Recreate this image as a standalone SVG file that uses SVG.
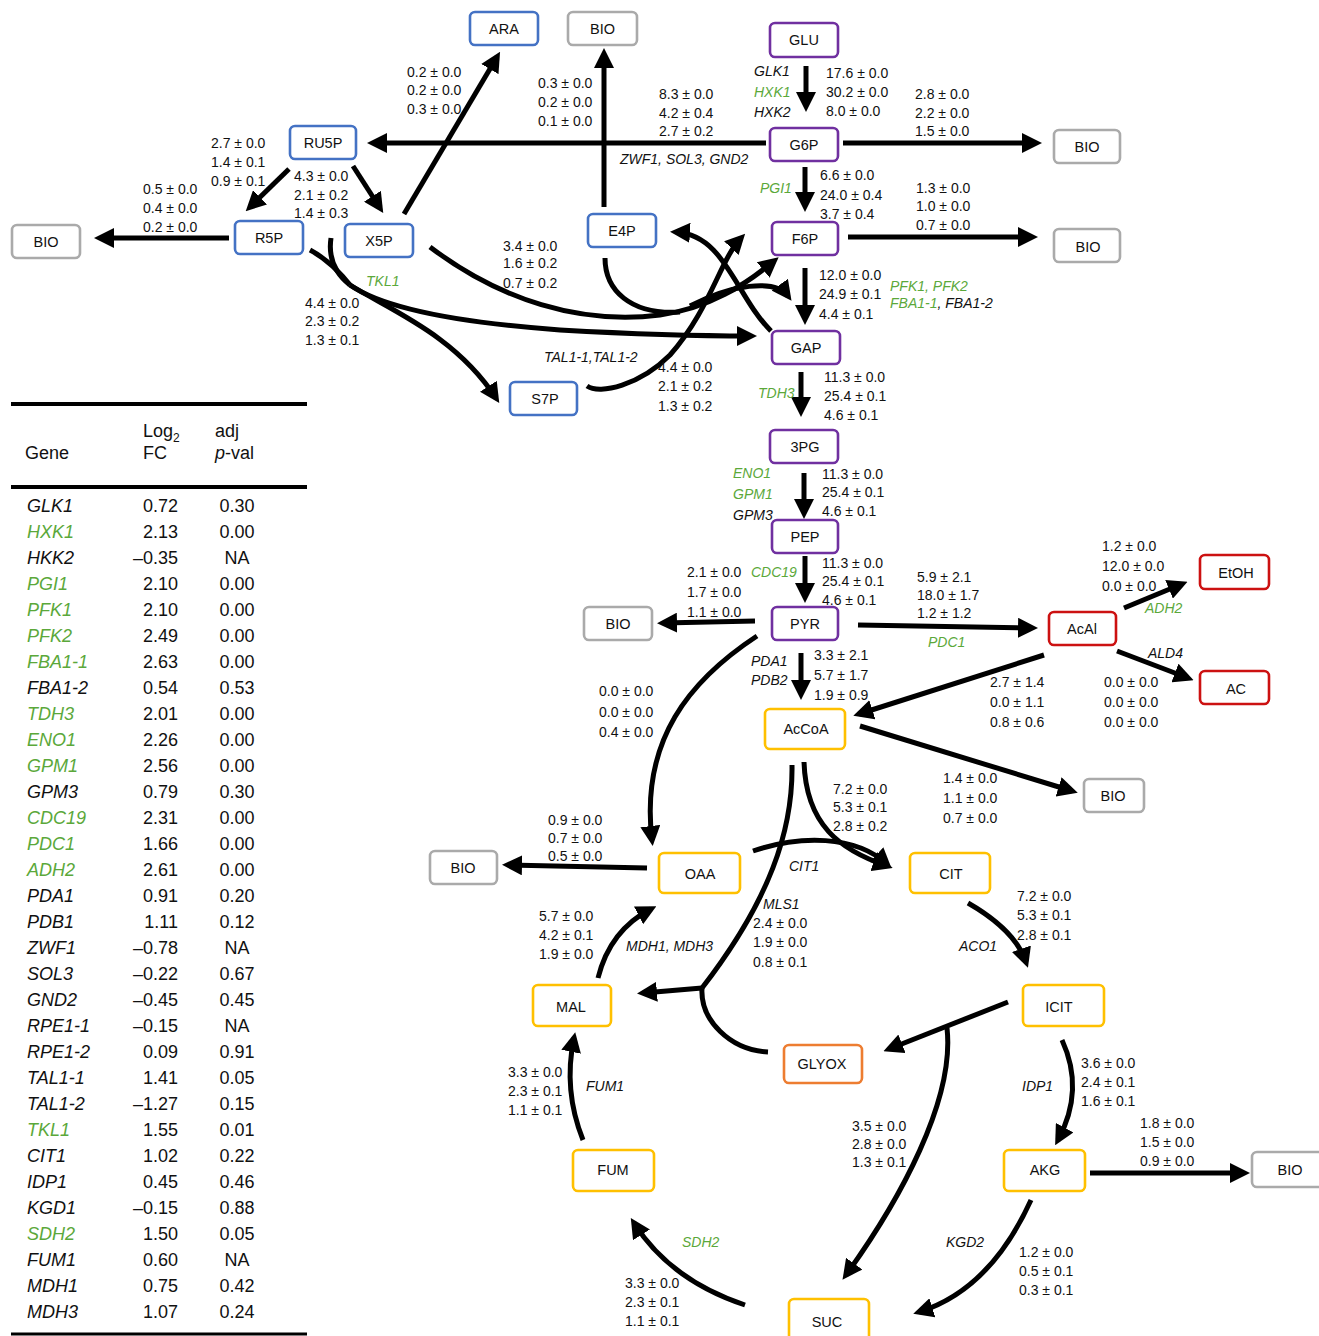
<svg xmlns="http://www.w3.org/2000/svg" width="1319" height="1336" viewBox="0 0 1319 1336">
<style>
text{font-family:"Liberation Sans",Arial,sans-serif;fill:#111}
.n{font-size:14px}
.g{font-size:14px;font-style:italic}
.gr{fill:#5ba83a}
.lb{font-size:14.5px;text-anchor:middle}
.box{fill:#fff;stroke-width:2.6}
.blue{stroke:#4472c4}.gray{stroke:#aaaaaa}.pur{stroke:#7030a0}.red{stroke:#cc1111}.yel{stroke:#ffc000}.org{stroke:#ed7d31}
.c{fill:none;stroke:#000;stroke-width:5}
.a{marker-end:url(#ah)}
.t{font-size:18px}
.ti{font-size:18px;font-style:italic}
.tr{font-size:18px;text-anchor:end}
.tm{font-size:18px;text-anchor:middle}
</style>
<defs>
<marker id="ah" viewBox="0 0 10 10" refX="7" refY="5" markerWidth="4" markerHeight="4" orient="auto">
<path d="M0,0 L10,5 L0,10 z" fill="#000"/>
</marker>
</defs>

<g id="connectors">
<line class="c a" x1="806" y1="66" x2="806" y2="106"/>
<line class="c a" x1="766" y1="143" x2="373" y2="143"/>
<line class="c a" x1="604" y1="207" x2="604" y2="54"/>
<line class="c a" x1="843" y1="143" x2="1036" y2="143"/>
<line class="c a" x1="805" y1="167" x2="805" y2="206"/>
<line class="c a" x1="848" y1="237" x2="1032" y2="237"/>
<line class="c a" x1="805" y1="268" x2="805" y2="319"/>
<line class="c a" x1="801" y1="372" x2="801" y2="411"/>
<line class="c a" x1="804" y1="473" x2="804" y2="513"/>
<line class="c a" x1="805" y1="556" x2="805" y2="597"/>
<line class="c a" x1="755" y1="621" x2="663" y2="623"/>
<line class="c a" x1="858" y1="625" x2="1032" y2="628"/>
<line class="c a" x1="1124" y1="608" x2="1182" y2="584"/>
<line class="c a" x1="1117" y1="651" x2="1188" y2="678"/>
<line class="c a" x1="1044" y1="655" x2="859" y2="714"/>
<line class="c a" x1="801" y1="653" x2="801" y2="694"/>
<line class="c a" x1="860" y1="726" x2="1072" y2="791"/>
<line class="c a" x1="647" y1="868" x2="508" y2="865"/>
<line class="c a" x1="1090" y1="1173" x2="1244" y2="1173"/>
<line class="c a" x1="1008" y1="1002" x2="889" y2="1049"/>
<line class="c a" x1="289" y1="169" x2="250" y2="207"/>
<line class="c a" x1="353" y1="166" x2="380" y2="208"/>
<line class="c a" x1="404" y1="214" x2="497" y2="57"/>
<line class="c a" x1="229" y1="238" x2="100" y2="238"/>
<path class="c a" d="M757 636 C690 680,640 740,652 840"/>
<path class="c a" d="M804 762 C806 825,840 850,887 866"/>
<path class="c a" d="M753 851 C800 835,855 835,887 864"/>
<path class="c" d="M792 765 C793 830,770 900,702 988"/>
<path class="c a" d="M702 988 L643 993"/>
<path class="c" d="M702 988 C700 1020,730 1050,768 1052"/>
<path class="c a" d="M598 978 Q610 930,651 909"/>
<path class="c a" d="M583 1140 Q563 1090,574 1038"/>
<path class="c a" d="M745 1305 Q670 1280,634 1223"/>
<path class="c a" d="M1031 1200 Q990 1290,919 1312"/>
<path class="c a" d="M1062 1040 Q1085 1090,1058 1140"/>
<path class="c a" d="M968 903 Q1015 930,1026 962"/>
<path class="c a" d="M947 1028 C955 1100,900 1200,846 1275"/>
<path class="c" d="M310 250 C325 258,338 270,350 285"/>
<path class="c" d="M331 238 C328 258,336 274,350 285"/>
<path class="c a" d="M350 285 C380 306,450 322,560 330 C650 335,700 336,751 336"/>
<path class="c a" d="M350 285 C390 310,455 335,496 398"/>
<path class="c a" d="M430 247 C500 300,580 325,660 315 C710 308,745 285,774 261"/>
<path class="c a" d="M690 306 C730 285,775 278,788 296"/>
<path class="c" d="M605 258 C605 290,630 315,680 312"/>
<path class="c a" d="M587 386 C600 395,640 385,670 355 C710 310,720 260,741 238"/>
<path class="c a" d="M771 331 C735 295,725 235,676 232"/>
</g>

<g id="n-ARA"><rect class="box blue" x="470" y="12" width="68" height="33" rx="5"/><text class="lb" x="504" y="34">ARA</text></g>
<g id="n-BIO1"><rect class="box gray" x="568" y="12" width="69" height="33" rx="5"/><text class="lb" x="602.5" y="34">BIO</text></g>
<g id="n-GLU"><rect class="box pur" x="770" y="23" width="68" height="34" rx="5"/><text class="lb" x="804" y="45">GLU</text></g>
<g id="n-RU5P"><rect class="box blue" x="290" y="126" width="66" height="33" rx="5"/><text class="lb" x="323" y="148">RU5P</text></g>
<g id="n-G6P"><rect class="box pur" x="770" y="128" width="68" height="33" rx="5"/><text class="lb" x="804" y="150">G6P</text></g>
<g id="n-BIO2"><rect class="box gray" x="1054" y="130" width="66" height="33" rx="5"/><text class="lb" x="1087" y="152">BIO</text></g>
<g id="n-BIO3"><rect class="box gray" x="12" y="225" width="68" height="33" rx="5"/><text class="lb" x="46" y="247">BIO</text></g>
<g id="n-R5P"><rect class="box blue" x="235" y="221" width="68" height="33" rx="5"/><text class="lb" x="269" y="243">R5P</text></g>
<g id="n-X5P"><rect class="box blue" x="345" y="224" width="68" height="33" rx="5"/><text class="lb" x="379" y="246">X5P</text></g>
<g id="n-E4P"><rect class="box blue" x="588" y="214" width="68" height="33" rx="5"/><text class="lb" x="622" y="236">E4P</text></g>
<g id="n-F6P"><rect class="box pur" x="772" y="222" width="66" height="33" rx="5"/><text class="lb" x="805" y="244">F6P</text></g>
<g id="n-BIO4"><rect class="box gray" x="1054" y="229" width="66" height="33" rx="5"/><text class="lb" x="1088" y="252">BIO</text></g>
<g id="n-GAP"><rect class="box pur" x="772" y="331" width="68" height="33" rx="5"/><text class="lb" x="806" y="353">GAP</text></g>
<g id="n-S7P"><rect class="box blue" x="510" y="382" width="67" height="33" rx="5"/><text class="lb" x="545" y="404">S7P</text></g>
<g id="n-3PG"><rect class="box pur" x="770" y="430" width="68" height="33" rx="5"/><text class="lb" x="805" y="452">3PG</text></g>
<g id="n-PEP"><rect class="box pur" x="772" y="520" width="66" height="33" rx="5"/><text class="lb" x="805" y="542">PEP</text></g>
<g id="n-PYR"><rect class="box pur" x="772" y="607" width="66" height="33" rx="5"/><text class="lb" x="805" y="629">PYR</text></g>
<g id="n-BIO5"><rect class="box gray" x="584" y="607" width="68" height="33" rx="5"/><text class="lb" x="618" y="629">BIO</text></g>
<g id="n-EtOH"><rect class="box red" x="1200" y="555" width="69" height="34" rx="5"/><text class="lb" x="1236" y="578">EtOH</text></g>
<g id="n-AcAl"><rect class="box red" x="1049" y="612" width="67" height="33" rx="5"/><text class="lb" x="1082" y="634">AcAl</text></g>
<g id="n-AC"><rect class="box red" x="1200" y="671" width="69" height="33" rx="5"/><text class="lb" x="1236" y="694">AC</text></g>
<g id="n-AcCoA"><rect class="box yel" x="765" y="709" width="80" height="40" rx="5"/><text class="lb" x="806" y="734">AcCoA</text></g>
<g id="n-BIO6"><rect class="box gray" x="1084" y="779" width="60" height="33" rx="5"/><text class="lb" x="1113" y="801">BIO</text></g>
<g id="n-BIO7"><rect class="box gray" x="430" y="851" width="67" height="33" rx="5"/><text class="lb" x="463" y="873">BIO</text></g>
<g id="n-OAA"><rect class="box yel" x="659" y="853" width="81" height="40" rx="5"/><text class="lb" x="700" y="879">OAA</text></g>
<g id="n-CIT"><rect class="box yel" x="910" y="853" width="80" height="40" rx="5"/><text class="lb" x="951" y="879">CIT</text></g>
<g id="n-MAL"><rect class="box yel" x="533" y="985" width="78" height="41" rx="5"/><text class="lb" x="571" y="1012">MAL</text></g>
<g id="n-ICIT"><rect class="box yel" x="1023" y="985" width="81" height="41" rx="5"/><text class="lb" x="1059" y="1012">ICIT</text></g>
<g id="n-GLYOX"><rect class="box org" x="784" y="1045" width="78" height="38" rx="5"/><text class="lb" x="822" y="1069">GLYOX</text></g>
<g id="n-FUM"><rect class="box yel" x="573" y="1150" width="81" height="41" rx="5"/><text class="lb" x="613" y="1175">FUM</text></g>
<g id="n-AKG"><rect class="box yel" x="1004" y="1150" width="81" height="41" rx="5"/><text class="lb" x="1045" y="1175">AKG</text></g>
<g id="n-BIO8"><rect class="box gray" x="1252" y="1152" width="80" height="35" rx="5"/><text class="lb" x="1290" y="1175">BIO</text></g>
<g id="n-SUC"><rect class="box yel" x="789" y="1299" width="80" height="45" rx="5"/><text class="lb" x="827" y="1327">SUC</text></g>

<g id="labels">
<text class="n"><tspan x="407" y="77">0.2 ± 0.0</tspan><tspan x="407" y="95">0.2 ± 0.0</tspan><tspan x="407" y="114">0.3 ± 0.0</tspan></text>
<text class="n"><tspan x="538" y="88">0.3 ± 0.0</tspan><tspan x="538" y="107">0.2 ± 0.0</tspan><tspan x="538" y="126">0.1 ± 0.0</tspan></text>
<text class="n"><tspan x="659" y="99">8.3 ± 0.0</tspan><tspan x="659" y="118">4.2 ± 0.4</tspan><tspan x="659" y="136">2.7 ± 0.2</tspan></text>
<text class="g" x="754" y="76">GLK1</text>
<text class="g gr" x="754" y="97">HXK1</text>
<text class="g" x="754" y="117">HXK2</text>
<text class="n"><tspan x="826" y="78">17.6 ± 0.0</tspan><tspan x="826" y="97">30.2 ± 0.0</tspan><tspan x="826" y="116">8.0 ± 0.0</tspan></text>
<text class="n"><tspan x="915" y="99">2.8 ± 0.0</tspan><tspan x="915" y="118">2.2 ± 0.0</tspan><tspan x="915" y="136">1.5 ± 0.0</tspan></text>
<text class="n"><tspan x="211" y="148">2.7 ± 0.0</tspan><tspan x="211" y="167">1.4 ± 0.1</tspan><tspan x="211" y="186">0.9 ± 0.1</tspan></text>
<text class="n"><tspan x="143" y="194">0.5 ± 0.0</tspan><tspan x="143" y="213">0.4 ± 0.0</tspan><tspan x="143" y="232">0.2 ± 0.0</tspan></text>
<text class="n"><tspan x="294" y="181">4.3 ± 0.0</tspan><tspan x="294" y="200">2.1 ± 0.2</tspan><tspan x="294" y="218">1.4 ± 0.3</tspan></text>
<text class="g" x="620" y="164">ZWF1, SOL3, GND2</text>
<text class="g gr" x="760" y="193">PGI1</text>
<text class="n"><tspan x="820" y="180">6.6 ± 0.0</tspan><tspan x="820" y="200">24.0 ± 0.4</tspan><tspan x="820" y="219">3.7 ± 0.4</tspan></text>
<text class="n"><tspan x="916" y="193">1.3 ± 0.0</tspan><tspan x="916" y="211">1.0 ± 0.0</tspan><tspan x="916" y="230">0.7 ± 0.0</tspan></text>
<text class="n"><tspan x="503" y="251">3.4 ± 0.0</tspan><tspan x="503" y="268">1.6 ± 0.2</tspan><tspan x="503" y="288">0.7 ± 0.2</tspan></text>
<text class="g gr" x="366" y="286">TKL1</text>
<text class="n"><tspan x="305" y="308">4.4 ± 0.0</tspan><tspan x="305" y="326">2.3 ± 0.2</tspan><tspan x="305" y="345">1.3 ± 0.1</tspan></text>
<text class="n"><tspan x="819" y="280">12.0 ± 0.0</tspan><tspan x="819" y="299">24.9 ± 0.1</tspan><tspan x="819" y="319">4.4 ± 0.1</tspan></text>
<text class="g gr" x="890" y="291">PFK1, PFK2</text>
<text class="g" x="890" y="308"><tspan class="gr">FBA1-1</tspan>, FBA1-2</text>
<text class="g" x="544" y="362">TAL1-1,TAL1-2</text>
<text class="n"><tspan x="658" y="372">4.4 ± 0.0</tspan><tspan x="658" y="391">2.1 ± 0.2</tspan><tspan x="658" y="411">1.3 ± 0.2</tspan></text>
<text class="g gr" x="758" y="398">TDH3</text>
<text class="n"><tspan x="824" y="382">11.3 ± 0.0</tspan><tspan x="824" y="401">25.4 ± 0.1</tspan><tspan x="824" y="420">4.6 ± 0.1</tspan></text>
<text class="g gr" x="733" y="478">ENO1</text>
<text class="g gr" x="733" y="499">GPM1</text>
<text class="g" x="733" y="520">GPM3</text>
<text class="n"><tspan x="822" y="479">11.3 ± 0.0</tspan><tspan x="822" y="497">25.4 ± 0.1</tspan><tspan x="822" y="516">4.6 ± 0.1</tspan></text>
<text class="n"><tspan x="687" y="577">2.1 ± 0.0</tspan><tspan x="687" y="597">1.7 ± 0.0</tspan><tspan x="687" y="617">1.1 ± 0.0</tspan></text>
<text class="g gr" x="751" y="577">CDC19</text>
<text class="n"><tspan x="822" y="568">11.3 ± 0.0</tspan><tspan x="822" y="586">25.4 ± 0.1</tspan><tspan x="822" y="605">4.6 ± 0.1</tspan></text>
<text class="n"><tspan x="917" y="582">5.9 ± 2.1</tspan><tspan x="917" y="600">18.0 ± 1.7</tspan><tspan x="917" y="618">1.2 ± 1.2</tspan></text>
<text class="g gr" x="928" y="647">PDC1</text>
<text class="n"><tspan x="1102" y="551">1.2 ± 0.0</tspan><tspan x="1102" y="571">12.0 ± 0.0</tspan><tspan x="1102" y="591">0.0 ± 0.0</tspan></text>
<text class="g gr" x="1145" y="613">ADH2</text>
<text class="g" x="1148" y="658">ALD4</text>
<text class="g" x="751" y="666">PDA1</text>
<text class="g" x="751" y="685">PDB2</text>
<text class="n"><tspan x="814" y="660">3.3 ± 2.1</tspan><tspan x="814" y="680">5.7 ± 1.7</tspan><tspan x="814" y="700">1.9 ± 0.9</tspan></text>
<text class="n"><tspan x="990" y="687">2.7 ± 1.4</tspan><tspan x="990" y="707">0.0 ± 1.1</tspan><tspan x="990" y="727">0.8 ± 0.6</tspan></text>
<text class="n"><tspan x="1104" y="687">0.0 ± 0.0</tspan><tspan x="1104" y="707">0.0 ± 0.0</tspan><tspan x="1104" y="727">0.0 ± 0.0</tspan></text>
<text class="n"><tspan x="599" y="696">0.0 ± 0.0</tspan><tspan x="599" y="717">0.0 ± 0.0</tspan><tspan x="599" y="737">0.4 ± 0.0</tspan></text>
<text class="n"><tspan x="833" y="794">7.2 ± 0.0</tspan><tspan x="833" y="812">5.3 ± 0.1</tspan><tspan x="833" y="831">2.8 ± 0.2</tspan></text>
<text class="n"><tspan x="943" y="783">1.4 ± 0.0</tspan><tspan x="943" y="803">1.1 ± 0.0</tspan><tspan x="943" y="823">0.7 ± 0.0</tspan></text>
<text class="n"><tspan x="548" y="825">0.9 ± 0.0</tspan><tspan x="548" y="843">0.7 ± 0.0</tspan><tspan x="548" y="861">0.5 ± 0.0</tspan></text>
<text class="g" x="789" y="871">CIT1</text>
<text class="g" x="763" y="909">MLS1</text>
<text class="n"><tspan x="753" y="928">2.4 ± 0.0</tspan><tspan x="753" y="947">1.9 ± 0.0</tspan><tspan x="753" y="967">0.8 ± 0.1</tspan></text>
<text class="n"><tspan x="1017" y="901">7.2 ± 0.0</tspan><tspan x="1017" y="920">5.3 ± 0.1</tspan><tspan x="1017" y="940">2.8 ± 0.1</tspan></text>
<text class="g" x="959" y="951">ACO1</text>
<text class="n"><tspan x="539" y="921">5.7 ± 0.0</tspan><tspan x="539" y="940">4.2 ± 0.1</tspan><tspan x="539" y="959">1.9 ± 0.0</tspan></text>
<text class="g" x="626" y="951">MDH1, MDH3</text>
<text class="n"><tspan x="508" y="1077">3.3 ± 0.0</tspan><tspan x="508" y="1096">2.3 ± 0.1</tspan><tspan x="508" y="1115">1.1 ± 0.1</tspan></text>
<text class="g" x="586" y="1091">FUM1</text>
<text class="n"><tspan x="1081" y="1068">3.6 ± 0.0</tspan><tspan x="1081" y="1087">2.4 ± 0.1</tspan><tspan x="1081" y="1106">1.6 ± 0.1</tspan></text>
<text class="g" x="1022" y="1091">IDP1</text>
<text class="n"><tspan x="852" y="1131">3.5 ± 0.0</tspan><tspan x="852" y="1149">2.8 ± 0.0</tspan><tspan x="852" y="1167">1.3 ± 0.1</tspan></text>
<text class="n"><tspan x="1140" y="1128">1.8 ± 0.0</tspan><tspan x="1140" y="1147">1.5 ± 0.0</tspan><tspan x="1140" y="1166">0.9 ± 0.0</tspan></text>
<text class="g gr" x="682" y="1247">SDH2</text>
<text class="g" x="946" y="1247">KGD2</text>
<text class="n"><tspan x="625" y="1288">3.3 ± 0.0</tspan><tspan x="625" y="1307">2.3 ± 0.1</tspan><tspan x="625" y="1326">1.1 ± 0.1</tspan></text>
<text class="n"><tspan x="1019" y="1257">1.2 ± 0.0</tspan><tspan x="1019" y="1276">0.5 ± 0.1</tspan><tspan x="1019" y="1295">0.3 ± 0.1</tspan></text>
</g>

<g id="table">
<line x1="11" y1="404" x2="307" y2="404" stroke="#000" stroke-width="4"/>
<line x1="11" y1="487" x2="307" y2="487" stroke="#000" stroke-width="4"/>
<line x1="11" y1="1334" x2="307" y2="1334" stroke="#000" stroke-width="3"/>
<text class="t" x="25" y="459">Gene</text>
<text class="t" x="143" y="437">Log<tspan font-size="12" dy="5">2</tspan></text>
<text class="t" x="143" y="459">FC</text>
<text class="t" x="215" y="437">adj</text>
<text class="t" x="215" y="459"><tspan font-style="italic">p</tspan>-val</text>
<g class="ti">
<text class="ti" x="27" y="512">GLK1</text>
<text class="ti gr" x="27" y="538">HXK1</text>
<text class="ti" x="27" y="564">HKK2</text>
<text class="ti gr" x="27" y="590">PGI1</text>
<text class="ti gr" x="27" y="616">PFK1</text>
<text class="ti gr" x="27" y="642">PFK2</text>
<text class="ti gr" x="27" y="668">FBA1-1</text>
<text class="ti" x="27" y="694">FBA1-2</text>
<text class="ti gr" x="27" y="720">TDH3</text>
<text class="ti gr" x="27" y="746">ENO1</text>
<text class="ti gr" x="27" y="772">GPM1</text>
<text class="ti" x="27" y="798">GPM3</text>
<text class="ti gr" x="27" y="824">CDC19</text>
<text class="ti gr" x="27" y="850">PDC1</text>
<text class="ti gr" x="27" y="876">ADH2</text>
<text class="ti" x="27" y="902">PDA1</text>
<text class="ti" x="27" y="928">PDB1</text>
<text class="ti" x="27" y="954">ZWF1</text>
<text class="ti" x="27" y="980">SOL3</text>
<text class="ti" x="27" y="1006">GND2</text>
<text class="ti" x="27" y="1032">RPE1-1</text>
<text class="ti" x="27" y="1058">RPE1-2</text>
<text class="ti" x="27" y="1084">TAL1-1</text>
<text class="ti" x="27" y="1110">TAL1-2</text>
<text class="ti gr" x="27" y="1136">TKL1</text>
<text class="ti" x="27" y="1162">CIT1</text>
<text class="ti" x="27" y="1188">IDP1</text>
<text class="ti" x="27" y="1214">KGD1</text>
<text class="ti gr" x="27" y="1240">SDH2</text>
<text class="ti" x="27" y="1266">FUM1</text>
<text class="ti" x="27" y="1292">MDH1</text>
<text class="ti" x="27" y="1318">MDH3</text>
</g>
<text class="tr"><tspan x="178" y="512">0.72</tspan><tspan x="178" y="538">2.13</tspan><tspan x="178" y="564">–0.35</tspan><tspan x="178" y="590">2.10</tspan><tspan x="178" y="616">2.10</tspan><tspan x="178" y="642">2.49</tspan><tspan x="178" y="668">2.63</tspan><tspan x="178" y="694">0.54</tspan><tspan x="178" y="720">2.01</tspan><tspan x="178" y="746">2.26</tspan><tspan x="178" y="772">2.56</tspan><tspan x="178" y="798">0.79</tspan><tspan x="178" y="824">2.31</tspan><tspan x="178" y="850">1.66</tspan><tspan x="178" y="876">2.61</tspan><tspan x="178" y="902">0.91</tspan><tspan x="178" y="928">1.11</tspan><tspan x="178" y="954">–0.78</tspan><tspan x="178" y="980">–0.22</tspan><tspan x="178" y="1006">–0.45</tspan><tspan x="178" y="1032">–0.15</tspan><tspan x="178" y="1058">0.09</tspan><tspan x="178" y="1084">1.41</tspan><tspan x="178" y="1110">–1.27</tspan><tspan x="178" y="1136">1.55</tspan><tspan x="178" y="1162">1.02</tspan><tspan x="178" y="1188">0.45</tspan><tspan x="178" y="1214">–0.15</tspan><tspan x="178" y="1240">1.50</tspan><tspan x="178" y="1266">0.60</tspan><tspan x="178" y="1292">0.75</tspan><tspan x="178" y="1318">1.07</tspan></text>
<text class="tm"><tspan x="237" y="512">0.30</tspan><tspan x="237" y="538">0.00</tspan><tspan x="237" y="564">NA</tspan><tspan x="237" y="590">0.00</tspan><tspan x="237" y="616">0.00</tspan><tspan x="237" y="642">0.00</tspan><tspan x="237" y="668">0.00</tspan><tspan x="237" y="694">0.53</tspan><tspan x="237" y="720">0.00</tspan><tspan x="237" y="746">0.00</tspan><tspan x="237" y="772">0.00</tspan><tspan x="237" y="798">0.30</tspan><tspan x="237" y="824">0.00</tspan><tspan x="237" y="850">0.00</tspan><tspan x="237" y="876">0.00</tspan><tspan x="237" y="902">0.20</tspan><tspan x="237" y="928">0.12</tspan><tspan x="237" y="954">NA</tspan><tspan x="237" y="980">0.67</tspan><tspan x="237" y="1006">0.45</tspan><tspan x="237" y="1032">NA</tspan><tspan x="237" y="1058">0.91</tspan><tspan x="237" y="1084">0.05</tspan><tspan x="237" y="1110">0.15</tspan><tspan x="237" y="1136">0.01</tspan><tspan x="237" y="1162">0.22</tspan><tspan x="237" y="1188">0.46</tspan><tspan x="237" y="1214">0.88</tspan><tspan x="237" y="1240">0.05</tspan><tspan x="237" y="1266">NA</tspan><tspan x="237" y="1292">0.42</tspan><tspan x="237" y="1318">0.24</tspan></text>
</g>
</svg>
